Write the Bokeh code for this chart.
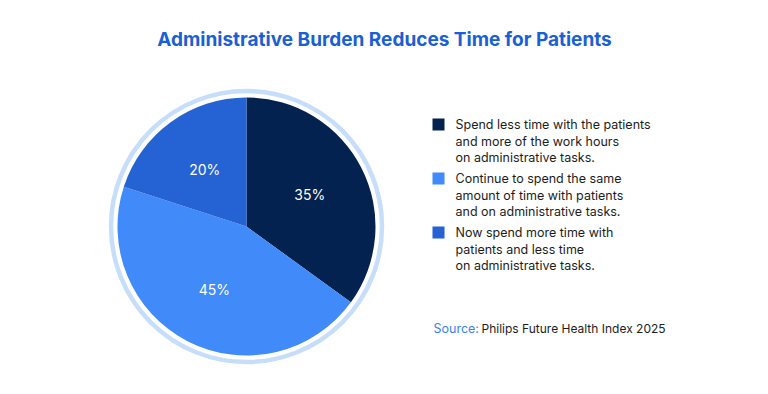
from bokeh.plotting import figure
from bokeh.models import Range1d, ColumnDataSource
from bokeh.core.properties import value
from bokeh.embed import file_html
from bokeh.resources import INLINE
import math

title = "Administrative Burden Reduces Time for Patients"
categories = [
    "Spend less time with the patients\nand more of the work hours\non administrative tasks.",
    "Continue to spend the same\namount of time with patients\nand on administrative tasks.",
    "Now spend more time with\npatients and less time\non administrative tasks.",
]
shares = [35, 45, 20]
colors = ["#03224f", "#408af9", "#2563d5"]
source_label = "Source:"
source_text = "Philips Future Health Index 2025"

W, H = 752, 378
FONT = "Inter"

p = figure(width=W, height=H, output_backend="svg", toolbar_location=None,
           x_range=Range1d(0, W), y_range=Range1d(0, H), min_border=0,
           background_fill_color="white", border_fill_color="white")
p.axis.visible = False
p.grid.visible = False
p.outline_line_color = None

# pie geometry (pixel-space)
cx, cy, R = 246, 152, 129

total = sum(shares)
starts, ends, lx, ly, labels = [], [], [], [], []
cum = 0.0
for s in shares:
    a0 = math.pi / 2 - 2 * math.pi * cum / total
    a1 = math.pi / 2 - 2 * math.pi * (cum + s) / total
    mid = (a0 + a1) / 2
    starts.append(a0)
    ends.append(a1)
    lx.append(cx + 0.55 * R * math.cos(mid))
    ly.append(cy + 0.55 * R * math.sin(mid))
    labels.append(f"{s}%")
    cum += s

src = ColumnDataSource(dict(start=starts, end=ends, color=colors, lx=lx, ly=ly, label=labels))

# outer ring
p.scatter(x=[cx], y=[cy], size=2 * (R + 6.5), marker="circle", fill_color=None,
          line_color="#c7defb", line_width=4.5)

p.wedge(x=cx, y=cy, radius=R, start_angle="start", end_angle="end", direction="clock",
        fill_color="color", line_color=None, source=src)

p.text(x="lx", y="ly", text="label", source=src, text_color="white",
       text_font=value(FONT), text_font_size="14px", text_align="center",
       text_baseline="middle")

# title
p.text(x=[384], y=[H - 39], text=[title], text_color="#1a5fd3",
       text_font=value(FONT), text_font_size="19px", text_font_style="bold",
       text_align="center", text_baseline="middle")

# legend
sq_x, txt_x = 438, 455
top0, step, lh = H - 124, 54, 16.5
ys = [top0 - i * step for i in range(len(categories))]
p.rect(x=[sq_x] * len(categories), y=ys, width=12, height=12, fill_color=colors, line_color=None)
for i, c in enumerate(categories):
    for j, line in enumerate(c.split("\n")):
        p.text(x=[txt_x], y=[ys[i] - j * lh], text=[line], text_color="#1c1c1c",
               text_font=value(FONT), text_font_size="12.5px", text_align="left",
               text_baseline="middle")

# source
p.text(x=[433], y=[H - 328], text=[source_label], text_color="#3b82f6",
       text_font=value(FONT), text_font_size="12.5px", text_align="left", text_baseline="middle")
p.text(x=[481], y=[H - 328], text=[source_text], text_color="#1c1c1c",
       text_font=value(FONT), text_font_size="12px", text_align="left", text_baseline="middle")

open("out.html", "w").write(file_html(p, INLINE))
